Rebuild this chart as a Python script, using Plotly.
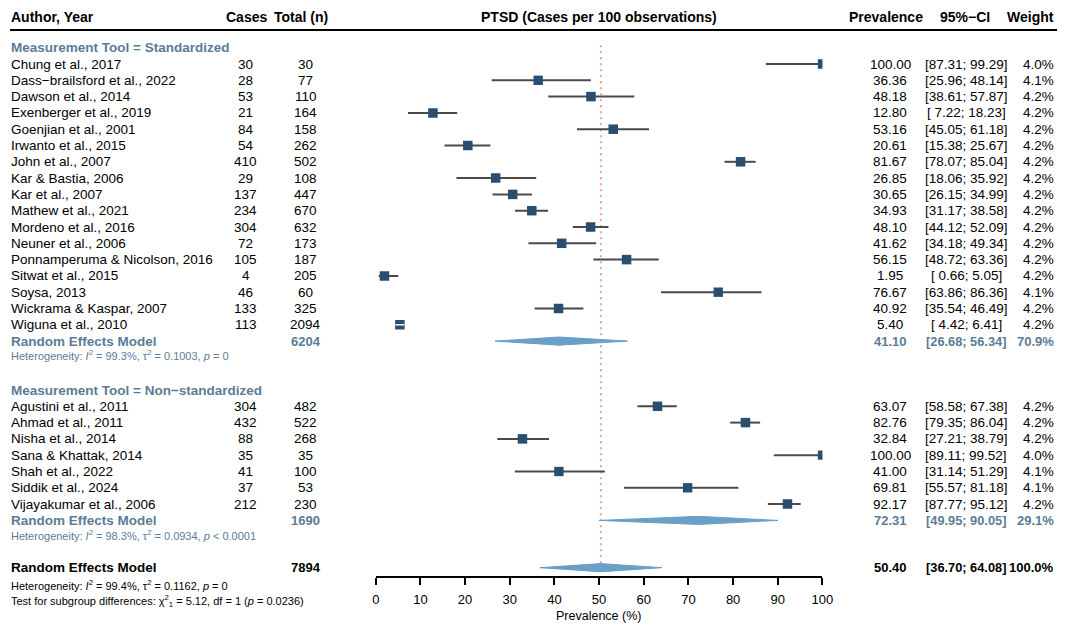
import plotly.graph_objects as go

# ---------------- data ----------------
std_authors = ["Chung et al., 2017", "Dass\u2212brailsford et al., 2022", "Dawson et al., 2014",
               "Exenberger et al., 2019", "Goenjian et al., 2001", "Irwanto et al., 2015",
               "John et al., 2007", "Kar & Bastia, 2006", "Kar et al., 2007", "Mathew et al., 2021",
               "Mordeno et al., 2016", "Neuner et al., 2006", "Ponnamperuma & Nicolson, 2016",
               "Sitwat et al., 2015", "Soysa, 2013", "Wickrama & Kaspar, 2007", "Wiguna et al., 2010"]
std_cases = [30, 28, 53, 21, 84, 54, 410, 29, 137, 234, 304, 72, 105, 4, 46, 133, 113]
std_total = [30, 77, 110, 164, 158, 262, 502, 108, 447, 670, 632, 173, 187, 205, 60, 325, 2094]
std_prev = [100.00, 36.36, 48.18, 12.80, 53.16, 20.61, 81.67, 26.85, 30.65, 34.93, 48.10, 41.62,
            56.15, 1.95, 76.67, 40.92, 5.40]
std_lo = [87.31, 25.96, 38.61, 7.22, 45.05, 15.38, 78.07, 18.06, 26.15, 31.17, 44.12, 34.18,
          48.72, 0.66, 63.86, 35.54, 4.42]
std_hi = [99.29, 48.14, 57.87, 18.23, 61.18, 25.67, 85.04, 35.92, 34.99, 38.58, 52.09, 49.34,
          63.36, 5.05, 86.36, 46.49, 6.41]
std_w = [4.0, 4.1, 4.2, 4.2, 4.2, 4.2, 4.2, 4.2, 4.2, 4.2, 4.2, 4.2, 4.2, 4.2, 4.1, 4.2, 4.2]

non_authors = ["Agustini et al., 2011", "Ahmad et al., 2011", "Nisha et al., 2014",
               "Sana & Khattak, 2014", "Shah et al., 2022", "Siddik et al., 2024",
               "Vijayakumar et al., 2006"]
non_cases = [304, 432, 88, 35, 41, 37, 212]
non_total = [482, 522, 268, 35, 100, 53, 230]
non_prev = [63.07, 82.76, 32.84, 100.00, 41.00, 69.81, 92.17]
non_lo = [58.58, 79.35, 27.21, 89.11, 31.14, 55.57, 87.77]
non_hi = [67.38, 86.04, 38.79, 99.52, 51.29, 81.18, 95.12]
non_w = [4.2, 4.2, 4.2, 4.0, 4.1, 4.1, 4.2]

group_labels = ["Measurement Tool = Standardized", "Measurement Tool = Non\u2212standardized"]
group_total = [6204, 1690]
group_est = [41.10, 72.31]
group_lo = [26.68, 49.95]
group_hi = [56.34, 90.05]
group_w = [70.9, 29.1]
group_het = ["Heterogeneity: <i>I</i><sup>2</sup> = 99.3%, \u03c4<sup>2</sup> = 0.1003, <i>p</i> = 0",
             "Heterogeneity: <i>I</i><sup>2</sup> = 98.3%, \u03c4<sup>2</sup> = 0.0934, <i>p</i> &lt; 0.0001"]

overall_total = 7894
overall_est = 50.40
overall_lo = 36.70
overall_hi = 64.08
overall_w = 100.0
overall_het = "Heterogeneity: <i>I</i><sup>2</sup> = 99.4%, \u03c4<sup>2</sup> = 0.1162, <i>p</i> = 0"
subgroup_test = "Test for subgroup differences: \u03c7<sup>2</sup><sub>1</sub> = 5.12, df = 1 (<i>p</i> = 0.0236)"

x_ticks = [0, 10, 20, 30, 40, 50, 60, 70, 80, 90, 100]

# ---------------- layout geometry ----------------
W, H = 1068, 627
ROW_PX = 16.3
ROW0_PX = 64.0               # pixel of first study row
FONT = "Liberation Sans, Arial, sans-serif"
FS = 13.5
GC = "#5c7c96"      # group colour
SQ = "#2a4e70"      # square colour
DIA = "#6a9fc8"     # diamond colour
LINEC = "#4a4a4a"

# row indices
std_rows = list(range(len(std_authors)))
rem1_row = len(std_authors)
het1_row = rem1_row + 0.88
title1_row = -1
title2_row = rem1_row + 3
non_rows = [title2_row + 1 + i for i in range(len(non_authors))]
rem2_row = non_rows[-1] + 1
het2_row = rem2_row + 0.9
overall_row = rem2_row + 2.9
ohet_row = overall_row + 1.08
test_row = overall_row + 2.06
header_row = (17 - ROW0_PX) / ROW_PX

y_top = -ROW0_PX / ROW_PX
y_bot = (H - ROW0_PX) / ROW_PX

# horizontal calibration (target picture pixel -> page pixel)
def page_x(ref):
    return (ref - 3.0) / 0.9866

def px(ref):
    return page_x(ref) / W

X_AUTH = 8
X_CASES = 245
X_TOTAL = 305
X_PREV = 890
X_CI = 966
X_W_RIGHT = 1056     # right edge of weight column (page limited)
PLOT_L, PLOT_R = 375, 822

fig = go.Figure()
ann = []

def add_text(xpx, row, text, anchor="center", size=FS, color="black", bold=False):
    if bold:
        text = "<b>" + text + "</b>"
    ann.append(dict(x=px(xpx), y=row, xref="paper", yref="y", text=text, showarrow=False,
                    xanchor=anchor, yanchor="middle",
                    font=dict(family=FONT, size=size, color=color)))

# header
HS = 14
add_text(X_AUTH, header_row, "Author, Year", anchor="left", bold=True, size=HS)
add_text(246, header_row, "Cases", bold=True, size=HS)
add_text(300, header_row, "Total (n)", bold=True, size=HS)
add_text(598, header_row, "PTSD (Cases per 100 observations)", bold=True, size=HS)
add_text(886, header_row, "Prevalence", bold=True, size=HS)
add_text(965, header_row, "95%\u2212CI", bold=True, size=HS)
add_text(X_W_RIGHT, header_row, "Weight", anchor="right", bold=True, size=HS)

def fmt_ci(lo, hi):
    return "[" + "%5.2f" % lo + "; " + "%.2f" % hi + "]"

# dotted reference line at overall estimate
fig.add_trace(go.Scatter(x=[overall_est, overall_est], y=[-1.15, overall_row + 0.3], mode="lines",
                         line=dict(color="#e3a3a3", width=2, dash="2px,4px"),
                         hoverinfo="skip", showlegend=False))

def study_block(authors, cases, total, prev, lo, hi, w, rows):
    for a, c, t, p, l, h, r, ww in zip(authors, cases, total, prev, lo, hi, rows, w):
        add_text(X_AUTH, r, a, anchor="left")
        add_text(X_CASES, r, str(c))
        add_text(X_TOTAL, r, str(t))
        add_text(X_PREV, r, "%.2f" % p)
        add_text(X_CI, r, fmt_ci(l, h))
        add_text(X_W_RIGHT, r, "%.1f%%" % ww, anchor="right")
    xs, ys = [], []
    for l, h, r in zip(lo, hi, rows):
        xs += [l, h, None]
        ys += [r, r, None]
    fig.add_trace(go.Scatter(x=xs, y=ys, mode="lines", line=dict(color=LINEC, width=2),
                             hoverinfo="skip", showlegend=False))
    sizes = [9.5 * (ww / 4.2) ** 0.5 for ww in w]
    fig.add_trace(go.Scatter(x=prev, y=rows, mode="markers",
                             marker=dict(symbol="square", size=sizes, color=SQ, opacity=1,
                                         line=dict(width=0)),
                             hoverinfo="skip", showlegend=False))
    # CI narrower than square -> white line inside the square
    scale = (PLOT_R - PLOT_L) / 100.0
    xs, ys = [], []
    for l, h, r, s in zip(lo, hi, rows, sizes):
        if (h - l) * scale < s:
            xs += [l, h, None]
            ys += [r, r, None]
    if xs:
        fig.add_trace(go.Scatter(x=xs, y=ys, mode="lines", line=dict(color="white", width=1.5),
                                 hoverinfo="skip", showlegend=False))

def diamond(est, lo, hi, row, half=0.25):
    fig.add_trace(go.Scatter(x=[lo, est, hi, est, lo], y=[row, row - half, row, row + half, row],
                             mode="lines", fill="toself", fillcolor=DIA,
                             line=dict(color=DIA, width=1), hoverinfo="skip", showlegend=False))

def summary_row(row, total, est, lo, hi, w, color):
    add_text(X_AUTH, row, "Random Effects Model", anchor="left", color=color, bold=True)
    add_text(X_TOTAL, row, str(total), color=color, bold=True, size=13)
    add_text(X_PREV, row, "%.2f" % est, color=color, bold=True, size=13)
    add_text(X_CI, row, fmt_ci(lo, hi), color=color, bold=True, size=12.8)
    add_text(X_W_RIGHT, row, "%.1f%%" % w, anchor="right", color=color, bold=True, size=13)
    diamond(est, lo, hi, row)

# group 1
add_text(X_AUTH, title1_row, group_labels[0], anchor="left", color=GC, bold=True)
study_block(std_authors, std_cases, std_total, std_prev, std_lo, std_hi, std_w, std_rows)
summary_row(rem1_row, group_total[0], group_est[0], group_lo[0], group_hi[0], group_w[0], GC)
add_text(X_AUTH, het1_row, group_het[0], anchor="left", size=11, color=GC)

# group 2
add_text(X_AUTH, title2_row, group_labels[1], anchor="left", color=GC, bold=True)
study_block(non_authors, non_cases, non_total, non_prev, non_lo, non_hi, non_w, non_rows)
summary_row(rem2_row, group_total[1], group_est[1], group_lo[1], group_hi[1], group_w[1], GC)
add_text(X_AUTH, het2_row, group_het[1], anchor="left", size=11, color=GC)

# overall
summary_row(overall_row, overall_total, overall_est, overall_lo, overall_hi, overall_w, "black")
add_text(X_AUTH, ohet_row, overall_het, anchor="left", size=11)
add_text(X_AUTH, test_row, subgroup_test, anchor="left", size=11)

# axis title
ann.append(dict(x=px(598), y=(H - 616) / H, xref="paper", yref="paper", text="Prevalence (%)",
                showarrow=False, xanchor="center", yanchor="middle",
                font=dict(family=FONT, size=12.5, color="black")))

axis_y_px = 577
fig.update_layout(
    width=W, height=H, autosize=False,
    margin=dict(l=0, r=0, t=0, b=0),
    paper_bgcolor="white", plot_bgcolor="white",
    showlegend=False,
    annotations=ann,
    shapes=[dict(type="line", xref="paper", yref="paper", x0=px(9), x1=1.0,
                 y0=(H - 30) / H, y1=(H - 30) / H, line=dict(color="black", width=2))],
    xaxis=dict(range=[0, 100], domain=[px(PLOT_L), px(PLOT_R)], anchor="free",
               position=(H - axis_y_px) / H, showgrid=False, zeroline=False,
               showline=True, linecolor="black", linewidth=1.5,
               tickmode="array", tickvals=x_ticks, ticktext=[str(t) for t in x_ticks],
               ticks="outside", ticklen=7, tickwidth=1.5, tickcolor="black",
               ticklabelstandoff=4,
               tickfont=dict(family=FONT, size=13, color="black")),
    yaxis=dict(range=[y_bot, y_top], domain=[0, 1], visible=False, showgrid=False,
               zeroline=False),
)

fig.write_html("out.html", config={"displayModeBar": False},
               post_script="document.body.style.margin='0px';")
